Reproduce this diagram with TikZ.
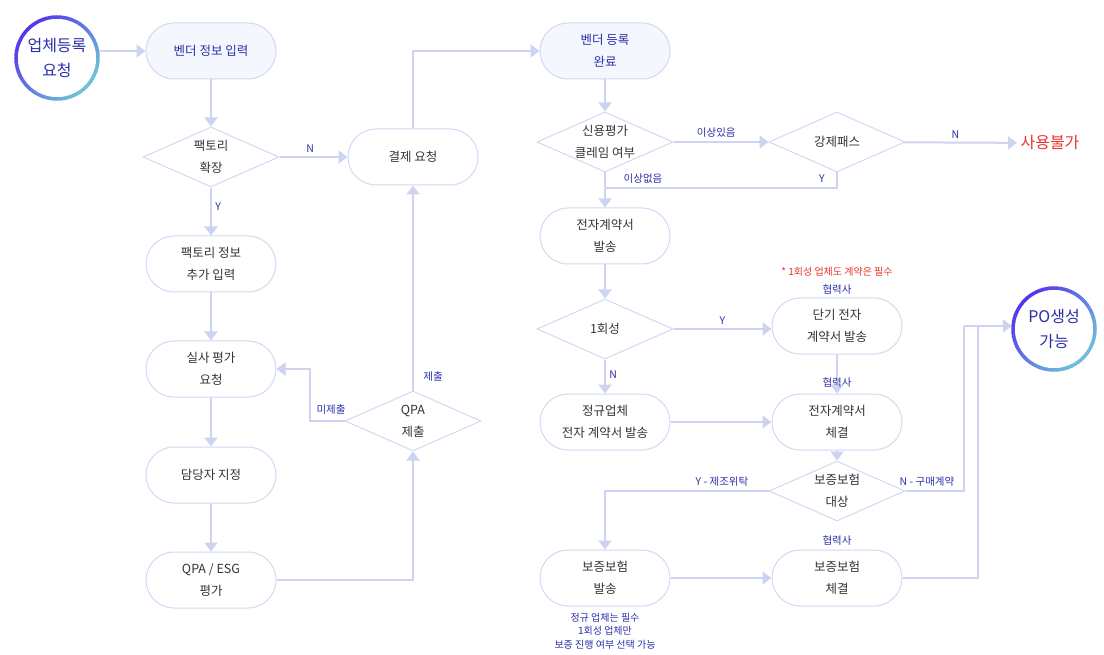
\documentclass[tikz,border=0pt]{standalone}
\usepackage{fontspec}
\setmainfont{Noto Sans CJK KR}
\usetikzlibrary{arrows.meta,shapes.geometric,calc}
\definecolor{ln}{HTML}{CDD3F0}
\definecolor{bd}{HTML}{D3D7F2}
\definecolor{pale}{HTML}{F5F7FE}
\definecolor{dblue}{HTML}{2A2FA8}
\definecolor{txt}{HTML}{333333}
\definecolor{rd}{HTML}{E8352B}
\definecolor{gA}{HTML}{5634EC}
\definecolor{gB}{HTML}{6EC0D8}
\tikzset{
 box/.style={draw=bd,line width=1pt,rounded corners=28pt,minimum width=130pt,minimum height=56pt,align=center,font=\fontsize{12.5}{22}\selectfont,text=txt},
 dia/.style={draw=bd,line width=1pt,diamond,aspect=2.27,minimum width=136pt,minimum height=60pt,inner sep=0pt,align=center,font=\fontsize{12.5}{22}\selectfont,text=txt},
 con/.style={draw=ln,line width=2pt,-{Triangle[length=9pt,width=13pt]}},
 lnk/.style={draw=ln,line width=2pt},
 lab/.style={text=dblue,font=\fontsize{10.5}{14}\selectfont,align=center},
}
\newcommand{\ringcirc}[2]{%
 \foreach \a in {0,5,...,355}{%
  \pgfmathtruncatemacro\tt{50+50*cos(\a-135)}%
  \draw[line width=3.5pt,color=gA!\tt!gB] ($(#1)+(\a:#2)$) arc[start angle=\a,end angle=\a+6,radius=#2];}}
\begin{document}
\begin{tikzpicture}[x=1pt,y=-1pt]
\useasboundingbox (0,0) rectangle (1104,655);
\coordinate (sc) at (57,58);
\ringcirc{sc}{41pt}
\node[text=dblue,font=\fontsize{16}{25}\selectfont,align=center,minimum size=84pt,circle] (start) at (sc) {업체등록\\요청};
\coordinate (pc) at (1054,329);
\ringcirc{pc}{41pt}
\node[text=dblue,font=\fontsize{16}{25}\selectfont,align=center,minimum size=84pt,circle] (po) at (pc) {PO생성\\가능};
\node[box,fill=pale,text=dblue] (vend) at (211,51) {벤더 정보 입력};
\node[dia] (fx) at (211,157) {팩토리\\확장};
\node[box] (fi) at (211,264) {팩토리 정보\\추가 입력};
\node[box] (sr) at (211,369) {실사 평가\\요청};
\node[box] (dd) at (211,475) {담당자 지정};
\node[box] (qe) at (211,580) {QPA / ESG\\평가};
\node[box] (pay) at (413,157) {결제 요청};
\node[dia] (qpa) at (413,421) {QPA\\제출};
\node[box,fill=pale,text=dblue] (vd) at (605,51) {벤더 등록\\완료};
\node[dia] (cr) at (605,142) {신용평가\\클레임 여부};
\node[dia] (fp) at (837,142) {강제패스};
\node[text=rd,font=\fontsize{16}{20}\selectfont] (nu) at (1050,143) {사용불가};
\node[box] (ec) at (605,236) {전자계약서\\발송};
\node[dia] (one) at (605,329) {1회성};
\node[box] (reg) at (605,422) {정규업체\\전자 계약서 발송};
\node[box] (st) at (837,326) {단기 전자\\계약서 발송};
\node[box] (ecs) at (837,422) {전자계약서\\체결};
\node[dia] (ins) at (837,491) {보증보험\\대상};
\node[box] (isd) at (605,578) {보증보험\\발송};
\node[box] (isc) at (837,578) {보증보험\\체결};
\draw[con] (vend.west -| start.east) -- (vend.west);
\draw[con] (vend) -- (fx);
\draw[con] (fx) -- node[lab,above,pos=0.45]{N} (pay);
\draw[con] (fx) -- node[lab,right,pos=0.4]{Y} (fi);
\draw[con] (fi) -- (sr);
\draw[con] (sr) -- (dd);
\draw[con] (dd) -- (qe);
\draw[con] (qe.east) -| (qpa.south);
\draw[con] (qpa.west) -- (310,421) |- (sr.east);
\node[lab] (mj) at (331,410) {미제출};
\draw[con] (qpa.north) -- (pay.south);
\node[lab] (jc) at (433,377) {제출};
\draw[con] (pay.north) |- (vd.west);
\draw[con] (vd) -- (cr);
\draw[con] (cr) -- node[lab,above,pos=0.45]{이상있음} (fp);
\draw[con] (fp) -- node[lab,above,pos=0.45]{N} (nu);
\draw[lnk] (fp.south) |- (605,188);
\node[lab] (yy) at (822,179) {Y};
\node[lab] (ng) at (643,179) {이상없음};
\draw[con] (cr) -- (ec);
\draw[con] (ec) -- (one);
\draw[con] (one) -- node[lab,above,pos=0.5]{Y} (one -| st.west);
\draw[con] (one) -- node[lab,right,pos=0.45]{N} (reg);
\draw[con] (st) -- (ecs);
\node[lab] (h1) at (837,383) {협력사};
\node[lab] (h0) at (837,290) {협력사};
\node[text=rd,font=\fontsize{10}{14}\selectfont] (note1) at (837,272) {* 1회성 업체도 계약은 필수};
\draw[con] (reg) -- (ecs);
\draw[con] (ecs) -- (ins);
\draw[con] (ins.west) -| (isd.north);
\node[lab] (yl) at (722,482) {Y - 제조위탁};
\draw[lnk] (ins.east) -| (964,326);
\node[lab] (nl) at (927,482) {N - 구매계약};
\draw[con] (isc.east) -| (978,326) -- (978,326 -| po.west);
\draw[lnk] (964,326) -- (978,326);
\draw[con] (isd) -- (isc);
\node[lab] (h2) at (837,541) {협력사};
\node[lab,font=\fontsize{10}{13.5}\selectfont] (note2) at (605,631) {정규 업체는 필수\\1회성 업체만\\보증 진행 여부 선택 가능};
\end{tikzpicture}
\end{document}
